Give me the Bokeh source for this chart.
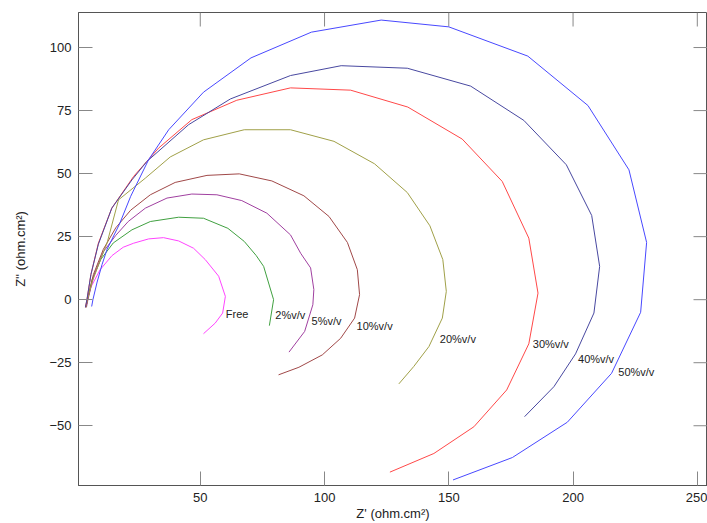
import math
from bokeh.plotting import figure
from bokeh.models import Range1d, FixedTicker
from bokeh.core.properties import value
from bokeh.embed import file_html
from bokeh.resources import INLINE

# ---- data ----
free_x = [4.0, 4.6, 6.0, 9.7, 14.5, 19.0, 23.2, 29.2, 35.2, 41.3, 47.3, 52.0, 57.4, 60.1, 59.0, 56.0, 51.3]
free_y = [-3.0, 0.0, 5.0, 11.9, 17.5, 20.8, 22.4, 24.1, 24.6, 23.3, 20.4, 15.9, 9.3, 1.3, -5.3, -9.3, -13.5]

c2_x = [4.0, 4.6, 6.5, 10.0, 15.0, 22.5, 29.9, 41.3, 51.3, 61.1, 67.7, 72.5, 75.5, 79.5, 77.8]
c2_y = [-3.0, 0.0, 8.0, 16.0, 22.5, 27.7, 31.0, 32.7, 32.3, 28.3, 23.1, 17.5, 13.2, 0.0, -10.3]

c5_x = [4.2, 4.8, 7.0, 11.0, 16.0, 21.0, 27.9, 36.6, 46.6, 56.7, 66.7, 76.8, 86.3, 90.4, 94.4, 95.7, 95.3, 92.0, 85.7]
c5_y = [-3.0, 0.0, 9.0, 19.0, 25.5, 31.0, 36.3, 40.3, 41.9, 41.6, 39.3, 34.3, 25.7, 18.4, 12.6, 4.0, -2.0, -12.6, -20.8]

c10_x = [4.0, 4.6, 7.0, 11.0, 16.0, 22.0, 29.9, 39.9, 52.7, 65.7, 78.8, 91.7, 101.8, 109.2, 113.2, 114.1, 112.1, 106.5, 99.1, 89.7, 81.5]
c10_y = [-3.0, 0.0, 10.0, 20.0, 28.5, 35.5, 41.6, 46.5, 49.3, 49.9, 47.1, 41.2, 33.0, 22.7, 11.9, 2.0, -7.3, -15.3, -21.9, -26.8, -29.8]

c20_x = [4.0, 4.6, 6.5, 9.5, 12.5, 17.1, 27.9, 37.9, 51.3, 67.7, 86.3, 103.8, 120.1, 133.3, 142.4, 147.6, 149.0, 147.4, 142.0, 135.9, 129.9]
c20_y = [-3.0, 0.0, 7.0, 15.0, 22.5, 39.6, 48.2, 56.6, 63.4, 67.4, 67.4, 62.8, 53.9, 42.5, 29.3, 15.9, 3.3, -7.3, -18.6, -26.5, -33.4]

c30_x = [3.8, 4.4, 6.0, 9.0, 14.4, 23.2, 33.2, 46.6, 64.7, 86.3, 110.5, 133.5, 155.4, 171.5, 182.2, 185.9, 182.2, 173.3, 160.1, 144.0, 126.3]
c30_y = [-3.0, 0.0, 10.0, 22.4, 36.3, 48.9, 60.1, 71.4, 79.1, 84.0, 83.1, 76.4, 63.7, 46.9, 24.4, 2.6, -17.5, -35.8, -50.4, -61.0, -68.4]

c40_x = [3.8, 4.4, 6.0, 9.0, 14.4, 22.5, 28.5, 45.3, 62.1, 86.3, 106.7, 133.3, 158.8, 180.2, 197.3, 207.5, 210.7, 208.4, 201.0, 192.3, 180.5]
c40_y = [-3.0, 0.0, 10.0, 22.0, 36.3, 47.5, 54.8, 69.4, 79.6, 88.9, 92.8, 91.8, 84.7, 71.1, 53.5, 33.4, 13.2, -5.3, -21.5, -34.5, -46.4]

c50_x = [6.3, 6.8, 8.5, 10.5, 12.5, 17.5, 22.0, 29.2, 37.3, 51.3, 70.4, 94.7, 122.8, 150.0, 181.8, 206.0, 222.5, 229.6, 227.2, 215.5, 197.7, 175.6, 151.7]
c50_y = [-2.7, 0.0, 7.0, 14.0, 20.0, 30.0, 41.0, 55.5, 67.4, 82.3, 95.9, 106.1, 110.9, 108.2, 96.6, 77.0, 51.5, 22.7, -5.0, -29.2, -48.6, -62.6, -71.5]

series_names = ["Free", "2%v/v", "5%v/v", "10%v/v", "20%v/v", "30%v/v", "40%v/v", "50%v/v"]
series_colors = ["#ff44ff", "#40a040", "#a040a0", "#a04848", "#a0a048", "#ff4848", "#4848a0", "#4848ff"]

label_x = [60.3, 80.2, 94.8, 112.9, 146.4, 183.8, 202.0, 218.2]
label_y = [-5.6, -6.0, -8.6, -10.3, -15.5, -17.5, -23.5, -28.8]

x_ticks = [50, 100, 150, 200, 250]
y_ticks = [-50, -25, 0, 25, 50, 75, 100]

x_min, x_max = 1.0, 254.1
y_min, y_max = -73.7, 113.9

# ---- figure ----
p = figure(width=707, height=523,
           x_range=Range1d(x_min, x_max), y_range=Range1d(y_min, y_max),
           output_backend="svg", toolbar_location=None,
           min_border_left=78, min_border_right=0, min_border_top=12, min_border_bottom=0)
p.xgrid.visible = False
p.ygrid.visible = False
p.outline_line_color = "#555555"
p.background_fill_color = "white"
p.border_fill_color = "white"

FONT = "Liberation Sans"
TICK_COLOR = "#888888"

def style_axis(ax, ticks):
    ax.ticker = FixedTicker(ticks=ticks)
    ax.major_tick_in = 14
    ax.major_tick_out = 0
    ax.minor_tick_in = 0
    ax.minor_tick_out = 0
    ax.major_tick_line_color = TICK_COLOR
    ax.major_tick_line_width = 1
    ax.axis_line_color = "#555555"
    ax.major_label_text_font = FONT
    ax.major_label_text_font_size = "13px"
    ax.major_label_text_color = "#222222"
    ax.major_label_standoff = 7
    ax.axis_label_text_font = FONT
    ax.axis_label_text_font_size = "13px"
    ax.axis_label_text_font_style = "normal"
    ax.axis_label_text_color = "#222222"

style_axis(p.xaxis[0], x_ticks)
p.xaxis[0].axis_label = "Z' (ohm.cm²)"
p.xaxis[0].axis_label_standoff = 1
style_axis(p.yaxis[0], y_ticks)
p.yaxis[0].axis_label = "Z'' (ohm.cm²)"
p.yaxis[0].axis_label_standoff = 18

# mirrored inward ticks on the top and right frame edges
p.ray(x=x_ticks, y=[y_max] * len(x_ticks), length=14, length_units="screen",
      angle=-math.pi / 2, line_color=TICK_COLOR, line_width=1)
p.ray(x=[x_max] * len(y_ticks), y=y_ticks, length=14, length_units="screen",
      angle=math.pi, line_color=TICK_COLOR, line_width=1)

all_x = [free_x, c2_x, c5_x, c10_x, c20_x, c30_x, c40_x, c50_x]
all_y = [free_y, c2_y, c5_y, c10_y, c20_y, c30_y, c40_y, c50_y]
for xs, ys, col in zip(all_x, all_y, series_colors):
    p.line(xs, ys, line_color=col, line_width=1)

p.text(x=label_x, y=label_y, text=series_names,
       text_font=value(FONT), text_font_size="11px", text_color="#222222",
       text_align="left", text_baseline="middle")

open("out.html", "w").write(file_html(p, INLINE))
